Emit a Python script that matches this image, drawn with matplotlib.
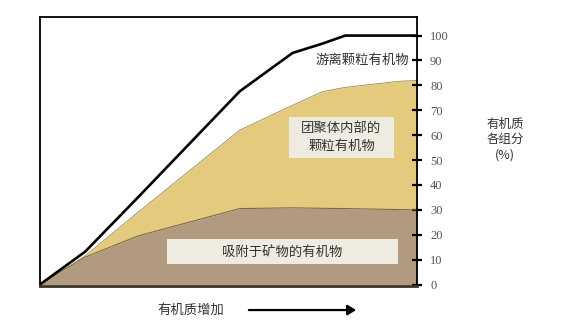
import matplotlib.pyplot as plt
from matplotlib.patches import FancyArrowPatch, Rectangle

plt.rcParams["font.family"] = ["Noto Sans CJK SC", "DejaVu Sans"]

# Relative organic-matter input (0 -> 1) and cumulative shares (%)
organic_input = [0, 0.12, 0.26, 0.53, 0.67, 0.75, 0.81, 0.95, 1.0]
mineral_bound = [0, 11.0, 19.5, 30.5, 30.8, 30.6, 30.5, 30.1, 30.0]
aggregate_top = [0, 11.5, 29.0, 62.0, 72.0, 77.5, 79.2, 81.6, 82.0]
total_line = [0, 13.2, 35.0, 77.6, 93.0, 96.8, 100.0, 100.0, 100.0]

y_ticks = [0, 10, 20, 30, 40, 50, 60, 70, 80, 90, 100]

BROWN = "#b19a80"
YELLOW = "#e4ca7d"
BOX = "#eeebe0"
TEXT = "#333333"

fig = plt.figure(figsize=(5.79, 3.25), dpi=100)
ax = fig.add_axes([0.069, 0.12, 0.651, 0.828])

ax.fill_between(organic_input, 0, mineral_bound, color=BROWN, linewidth=0)
ax.fill_between(organic_input, mineral_bound, aggregate_top, color=YELLOW, linewidth=0)
ax.plot(organic_input, mineral_bound, color="#7a6a4a", linewidth=0.8)
ax.plot(organic_input, aggregate_top, color="#9a8650", linewidth=0.6)
ax.plot(organic_input, total_line, color="black", linewidth=1.9, solid_joinstyle="miter")

ax.set_xlim(0, 1)
ax.set_ylim(-0.6, 107.5)
ax.set_xticks([])
ax.yaxis.tick_right()
ax.set_yticks(y_ticks)
ax.set_yticklabels([str(t) for t in y_ticks], family="Liberation Serif",
                   fontsize=9, color="#555555")
ax.tick_params(axis="y", direction="inout", length=7, width=1.6, pad=6)
for side in ["left", "top", "right"]:
    ax.spines[side].set_linewidth(1.3)
ax.spines["bottom"].set_linewidth(2.0)
ax.spines["bottom"].set_color("#3a3328")

# label panels behind the in-plot text
ax.add_patch(Rectangle((0.660, 50.8), 0.279, 16.5, facecolor=BOX, edgecolor="none", zorder=3))
ax.add_patch(Rectangle((0.337, 8.1), 0.613, 10.0, facecolor=BOX, edgecolor="none", zorder=3))

ax.text(0.855, 90, "游离颗粒有机物", ha="center", va="center", fontsize=9.6, color=TEXT)
ax.text(0.80, 59.2, "团聚体内部的\n颗粒有机物", ha="center", va="center", fontsize=9.6,
        color=TEXT, linespacing=1.35, zorder=4)
ax.text(0.642, 13, "吸附于矿物的有机物", ha="center", va="center", fontsize=9.6,
        color=TEXT, zorder=4)

fig.text(0.872, 0.57, "有机质\n各组分\n(%)", ha="center", va="center", fontsize=9,
         color=TEXT, linespacing=1.2)
fig.text(0.33, 0.046, "有机质增加", ha="center", va="center", fontsize=9.6, color=TEXT)
fig.patches.append(FancyArrowPatch((0.425, 0.046), (0.62, 0.046), transform=fig.transFigure,
                                   arrowstyle="-|>,head_length=5,head_width=3",
                                   color="black", linewidth=1.6))

fig.savefig("out.png", dpi=100)
